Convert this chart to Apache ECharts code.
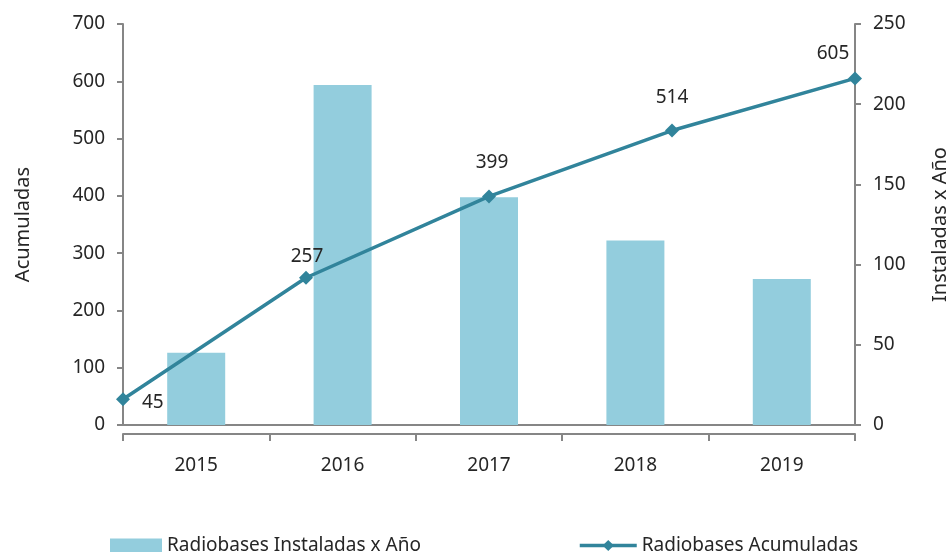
<!DOCTYPE html>
<html>
<head>
<meta charset="utf-8">
<script src="https://cdn.jsdelivr.net/npm/echarts@6/dist/echarts.min.js"></script>
<style>
  html, body { margin: 0; padding: 0; background: #fff; }
  #chart { width: 952px; height: 552px; }
</style>
</head>
<body>
<div id="chart"></div>
<script>
// datos
const years = ['2015', '2016', '2017', '2018', '2019'];
const instaladas = [45, 212, 142, 115, 91];      // barras, eje derecho
const acumuladas = [45, 257, 399, 514, 605];     // linea, eje izquierdo
const leftTicks = { min: 0, max: 700, interval: 100 };
const rightTicks = { min: 0, max: 250, interval: 50 };

const axisGray = '#868686';
const textDark = '#262626';
const font = 'Noto Sans';
const fs = 19;

// posicion de cada etiqueta (como en el original)
const labelPos = [
  { position: 'right', distance: 12, offset: [0, 3] },
  { position: 'top', distance: 5, offset: [1, 0] },
  { position: 'top', distance: 17, offset: [3, 0] },
  { position: 'top', distance: 16, offset: [0, 0] },
  { position: 'top', distance: 8, offset: [-22, 0] }
];

let lineData = acumuladas.map(function (v, i) {
  return { value: v, label: labelPos[i] };
});

let chart = echarts.init(document.getElementById('chart'));
chart.setOption({
  animation: false,
  textStyle: { fontFamily: font },
  grid: { left: 123, right: 97, top: 24, bottom: 127, containLabel: false, outerBoundsMode: 'none' },
  legend: [{
    data: [{ name: 'Radiobases Instaladas x Año', icon: 'rect' }],
    left: 105, top: 531,
    itemWidth: 52, itemHeight: 14, itemGap: 6,
    textStyle: { fontSize: fs, color: textDark, fontFamily: font }
  }, {
    data: ['Radiobases Acumuladas'],
    left: 573, top: 531,
    itemWidth: 57, itemHeight: 14,
    lineStyle: { width: 3.5 },
    textStyle: { fontSize: fs, color: textDark, fontFamily: font }
  }],
  xAxis: [{
    type: 'category',
    data: years,
    position: 'bottom',
    offset: 9,
    boundaryGap: true,
    axisLine: { show: true, onZero: false, lineStyle: { color: axisGray, width: 2 } },
    axisTick: { show: true, length: 7, lineStyle: { color: axisGray, width: 2 } },
    axisLabel: { fontSize: fs, color: textDark, margin: 22, fontFamily: font },
    splitLine: { show: false }
  }, {
    type: 'category',
    data: years,
    position: 'bottom',
    offset: 0,
    boundaryGap: false,
    axisLine: { show: true, onZero: false, lineStyle: { color: axisGray, width: 2 } },
    axisTick: { show: false },
    axisLabel: { show: false },
    splitLine: { show: false }
  }],
  yAxis: [{
    type: 'value',
    position: 'left',
    min: leftTicks.min, max: leftTicks.max, interval: leftTicks.interval,
    name: 'Acumuladas',
    nameLocation: 'middle',
    nameRotate: 90,
    nameGap: 90,
    nameTextStyle: { fontSize: 20, color: textDark, fontFamily: font },
    axisLine: { show: true, lineStyle: { color: axisGray, width: 2 } },
    axisTick: { show: true, length: 6, lineStyle: { color: axisGray, width: 2 } },
    axisLabel: { fontSize: fs, color: textDark, margin: 18, fontFamily: font },
    splitLine: { show: false }
  }, {
    type: 'value',
    position: 'right',
    min: rightTicks.min, max: rightTicks.max, interval: rightTicks.interval,
    name: 'Instaladas x Año',
    nameLocation: 'middle',
    nameRotate: 90,
    nameGap: 75,
    nameTextStyle: { fontSize: 20, color: textDark, fontFamily: font },
    axisLine: { show: true, lineStyle: { color: axisGray, width: 2 } },
    axisTick: { show: true, length: 6, lineStyle: { color: axisGray, width: 2 } },
    axisLabel: { fontSize: fs, color: textDark, margin: 18, fontFamily: font },
    splitLine: { show: false }
  }],
  series: [{
    name: 'Radiobases Instaladas x Año',
    type: 'bar',
    xAxisIndex: 0,
    yAxisIndex: 1,
    barWidth: 58,
    itemStyle: { color: '#93CDDD' },
    data: instaladas
  }, {
    name: 'Radiobases Acumuladas',
    type: 'line',
    xAxisIndex: 1,
    yAxisIndex: 0,
    symbol: 'diamond',
    symbolSize: 14,
    lineStyle: { color: '#31849B', width: 3.5 },
    itemStyle: { color: '#31849B' },
    label: { show: true, fontSize: fs, color: textDark, fontFamily: font },
    data: lineData,
    z: 3
  }]
});
</script>
</body>
</html>
